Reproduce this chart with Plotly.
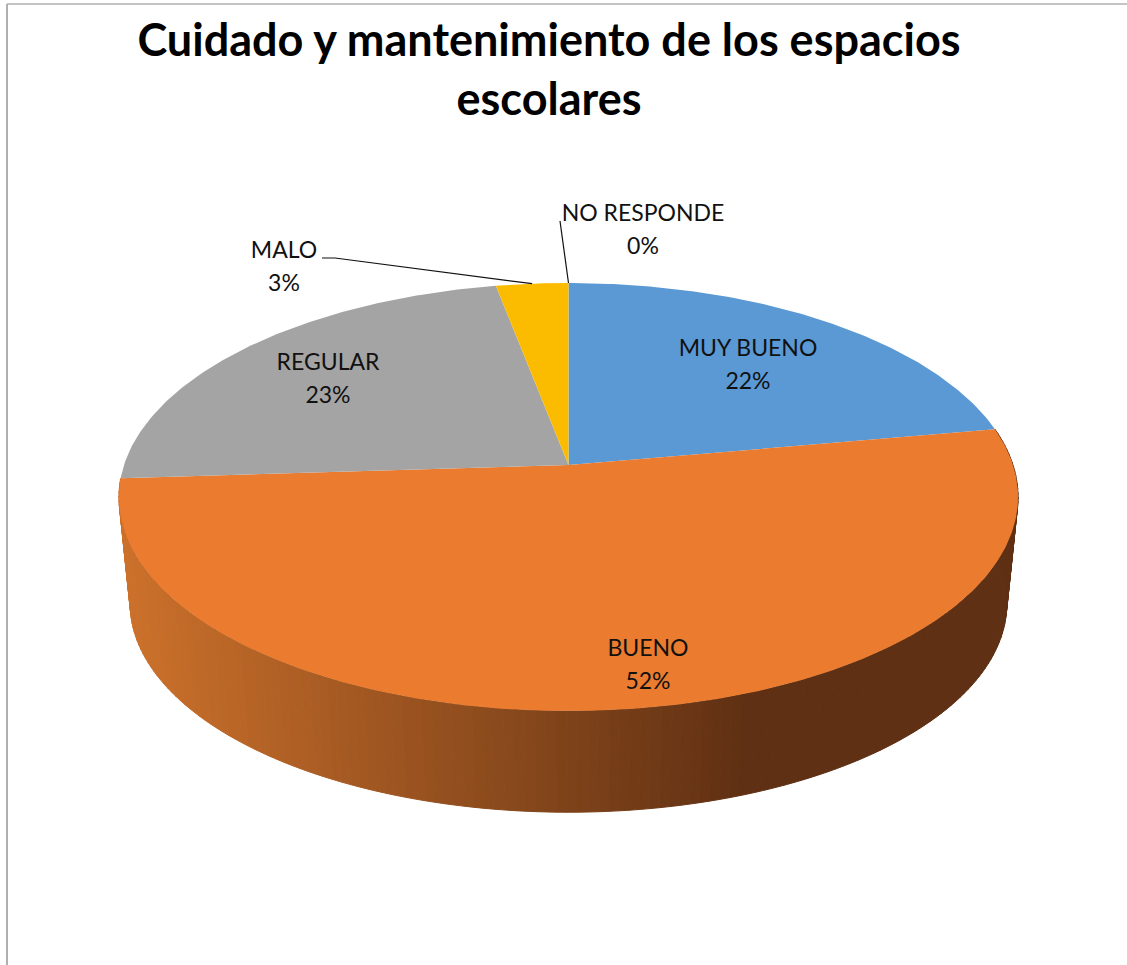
import numpy as np
import plotly.graph_objects as go

# ---- data ----
categories = ["MUY BUENO", "BUENO", "REGULAR", "MALO", "NO RESPONDE"]
values = [22.2, 51.8, 23.0, 3.0, 0.0]
colors = ["#5B99D4", "#EA7B2F", "#A4A4A4", "#FBBC00", "#4472C4"]
title_text = "Cuidado y mantenimiento de los espacios<br>escolares"

# ---- projection of the tilted pie onto the page ----
CX, CY, R = 568.5, 465.0, 444.5      # apex and radius
D, B = 6.688, 9358.0                 # perspective
DEPTH_SCALE, VANISH_Y = 0.975, 4760.0  # extrusion


def project(theta_deg, r=1.0, bottom=False):
    t = np.radians(theta_deg)
    X, Y = r * np.sin(t), -r * np.cos(t)
    k = D / (D - Y)
    x = CX + R * X * k
    y = CY + B / (D - Y) - B / D
    if bottom:
        x = CX + DEPTH_SCALE * (x - CX)
        y = VANISH_Y + DEPTH_SCALE * (y - VANISH_Y)
    return x, y


total = sum(values)
edges = np.concatenate([[0.0], np.cumsum(values) / total * 360.0])
fig = go.Figure()


def poly(xs, ys, color, lw=0.0):
    fig.add_trace(go.Scatter(
        x=list(xs), y=list(ys), mode="lines", fill="toself", fillcolor=color,
        line=dict(color=color, width=lw), hoverinfo="skip", showlegend=False))


# ---- side wall of the front slice, horizontal shading ----
WALL_LEFT, WALL_RIGHT = (204, 113, 43), (95, 48, 19)


def wall_color(x):
    f = min(max((x - 130.0) / (745.0 - 130.0), 0.0), 1.0)
    c = [round(a + (b - a) * f) for a, b in zip(WALL_LEFT, WALL_RIGHT)]
    return "rgb(%d,%d,%d)" % tuple(c)


wall_edges = np.linspace(edges[1], edges[2], 161)
for a0, a1 in zip(wall_edges[:-1], wall_edges[1:]):
    ang = np.array([a0, a1])
    tx, ty = project(ang)
    bx, by = project(ang, bottom=True)
    poly([tx[0], tx[1], bx[1], bx[0], tx[0]], [ty[0], ty[1], by[1], by[0], ty[0]],
         wall_color(float(np.mean(bx))), 1.0)

# ---- top face ----
for i, v in enumerate(values):
    if v <= 0:
        continue
    ang = np.linspace(edges[i], edges[i + 1], max(int(v * 6), 12))
    ex, ey = project(ang)
    poly([CX, *ex, CX], [CY, *ey, CY], colors[i])

# ---- leader lines ----
leader_color = "#111111"
mx, my = project((edges[3] + edges[4]) / 2)
fig.add_trace(go.Scatter(x=[322, 335, mx], y=[258, 258, my], mode="lines",
                         line=dict(color=leader_color, width=1.2), hoverinfo="skip", showlegend=False))
nx, ny = project(edges[5])
fig.add_trace(go.Scatter(x=[560, nx], y=[221, ny], mode="lines",
                         line=dict(color=leader_color, width=1.2), hoverinfo="skip", showlegend=False))

# ---- labels: name line and percent line ----
LABEL_CX = [748.0, 648.0, 328.0, 284.0, 643.0]
LABEL_CY = [366.5, 667.0, 380.5, 268.5, 232.0]
LINE_GAP = 16.5
tx_all, ty_all, txt_all = [], [], []
for c, v, x0, y0 in zip(categories, values, LABEL_CX, LABEL_CY):
    tx_all += [x0, x0]
    ty_all += [y0 - LINE_GAP, y0 + LINE_GAP]
    txt_all += [c, f"{round(v)}%"]
fig.add_trace(go.Scatter(
    x=tx_all, y=ty_all, mode="text", text=txt_all, textposition="middle center",
    textfont=dict(family="Lato, Carlito, sans-serif", size=23, color="#111111"),
    hoverinfo="skip", showlegend=False, cliponaxis=False))

# ---- frame of the chart area ----
fig.add_shape(type="line", x0=7, x1=7, y0=4, y1=965, line=dict(color="#B0B0B0", width=2))
fig.add_shape(type="line", x0=7, x1=1127, y0=4, y1=4, line=dict(color="#B0B0B0", width=1.5))

fig.update_layout(
    width=1127, height=965,
    margin=dict(l=0, r=0, t=0, b=0),
    paper_bgcolor="white", plot_bgcolor="white",
    title=dict(text=title_text, x=549 / 1127, xanchor="center", y=1 - 56 / 965, yanchor="middle",
               font=dict(family="Lato, Carlito, sans-serif", size=45, color="black", weight="bold")),
    xaxis=dict(range=[0, 1127], visible=False, fixedrange=True),
    yaxis=dict(range=[965, 0], visible=False, fixedrange=True),
    showlegend=False,
)
fig.write_html("out.html", config={"displayModeBar": False},
               post_script="document.body.style.margin='0';document.body.style.overflow='hidden';")
